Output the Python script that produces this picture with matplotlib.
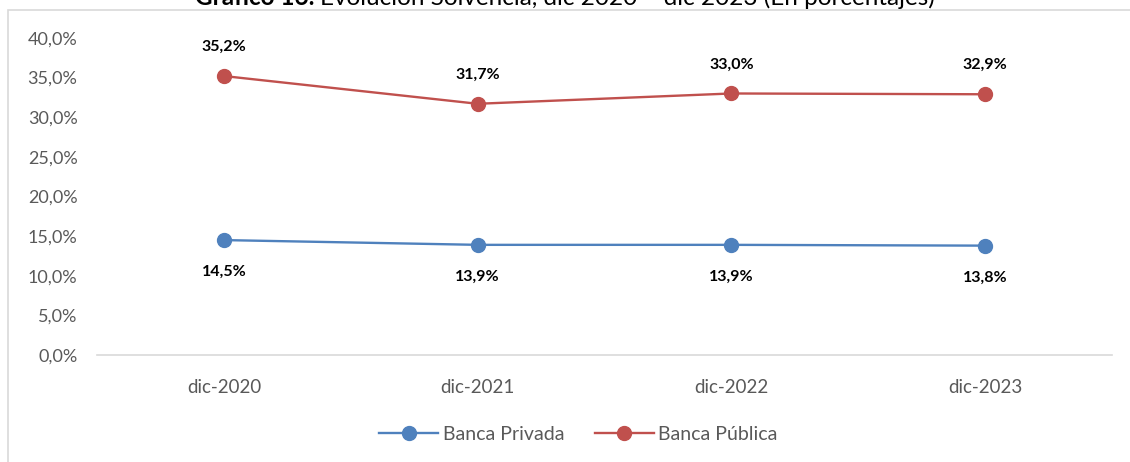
import matplotlib.pyplot as plt
from matplotlib.patches import Rectangle
from matplotlib.ticker import FuncFormatter

plt.rcParams['font.family'] = ['Lato', 'DejaVu Sans']

# Datos
periodos = ['dic-2020', 'dic-2021', 'dic-2022', 'dic-2023']
banca_privada = [14.5, 13.9, 13.9, 13.8]
banca_publica = [35.2, 31.7, 33.0, 32.9]

azul = '#4F81BD'
rojo = '#C0504D'

fig = plt.figure(figsize=(11.3, 4.62), dpi=100)
ax = fig.add_axes([97 / 1130, 1 - 355 / 462, 1015 / 1130, 317 / 462])

x = range(len(periodos))
ax.plot(x, banca_privada, color=azul, lw=1.7, marker='o', ms=10, label='Banca Privada')
ax.plot(x, banca_publica, color=rojo, lw=1.7, marker='o', ms=10, label='Banca Pública')

# etiquetas de datos
for i, v in enumerate(banca_publica):
    ax.annotate(f'{v:.1f}%'.replace('.', ','), (i, v), xytext=(0, 29), textcoords='offset pixels',
                ha='center', va='center', fontsize=11.5, fontweight='bold', color='black')
for i, v in enumerate(banca_privada):
    ax.annotate(f'{v:.1f}%'.replace('.', ','), (i, v), xytext=(0, -32), textcoords='offset pixels',
                ha='center', va='center', fontsize=11.5, fontweight='bold', color='black')

ax.set_xlim(-0.5, len(periodos) - 0.5)
ax.set_ylim(0, 40)
ax.set_yticks(range(0, 41, 5))
ax.yaxis.set_major_formatter(FuncFormatter(lambda v, p: f'{v:.1f}%'.replace('.', ',')))
ax.set_xticks(list(x))
ax.set_xticklabels(periodos)
ax.tick_params(axis='both', length=0, labelcolor='#595959')
ax.tick_params(axis='y', pad=14, labelsize=13)
ax.tick_params(axis='x', pad=17, labelsize=13.5)
for s in ['top', 'right', 'left']:
    ax.spines[s].set_visible(False)
ax.spines['bottom'].set_color('#D9D9D9')
ax.spines['bottom'].set_linewidth(1.2)

leg = fig.legend(loc='center', bbox_to_anchor=(0.512, 1 - 434 / 462), ncol=2, frameon=False,
                 fontsize=14, handlelength=3.0, columnspacing=1.6, handletextpad=0.25)
for t in leg.get_texts():
    t.set_color('#595959')

# borde del área del gráfico (recortado)
fig.patches.append(Rectangle((8 / 1130, -0.1), 1.2, 1 - 10 / 462 + 0.1, transform=fig.transFigure,
                             fill=False, edgecolor='#D9D9D9', lw=1.2))

# título recortado en el borde superior
ty = 1 - 5 / 462
t1 = fig.text(195 / 1130, ty, 'Gráfico 16:', fontsize=17.5, fontweight='bold', va='baseline', ha='left')
r = fig.canvas.get_renderer()
bb = t1.get_window_extent(r)
fig.text(bb.x1 / 1130 + 0.005, ty, 'Evolución Solvencia, dic 2020 – dic 2023 (En porcentajes)',
         fontsize=17.5, va='baseline', ha='left')

fig.savefig('out.png', dpi=100)
